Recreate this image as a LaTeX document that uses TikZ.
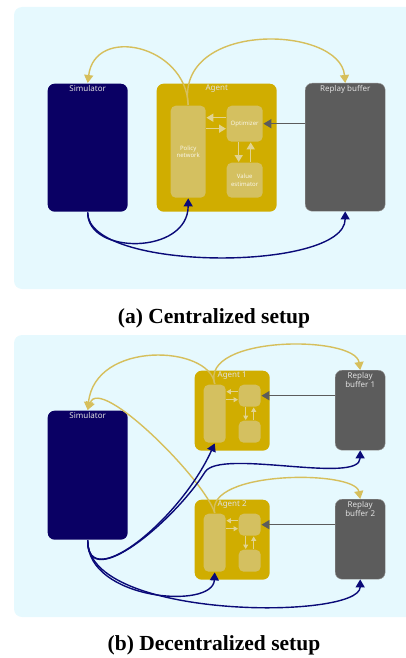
\documentclass[tikz,border=0pt]{standalone}
\usepackage{fontspec}
\setmainfont{Liberation Serif}
\setsansfont{Noto Sans}
\usepackage{xcolor}
\usetikzlibrary{arrows.meta}
\usetikzlibrary{calc}
\usetikzlibrary{positioning}

\definecolor{bgcyan}{HTML}{E6F9FE}
\definecolor{simblue}{HTML}{0A0064}
\definecolor{agentgold}{HTML}{D0AD00}
\definecolor{innergold}{HTML}{D4C060}
\definecolor{buffergray}{HTML}{5C5C5C}
\definecolor{flowgold}{HTML}{D6BF5C}
\definecolor{flownavy}{HTML}{0A0A78}

\begin{document}
\begin{tikzpicture}[x=1pt,y=-1pt,>={Triangle[width=9pt,length=8pt]},line width=1.4pt,font=\sffamily]
 				 \tikzstyle{panel}=[fill=bgcyan, rounded corners=8pt]
 				 \tikzstyle{box}=[rounded corners=7pt, inner sep=0pt, anchor=north west]
 				 \tikzstyle{inbox}=[box, fill=innergold, rounded corners=5pt]
 				 \tikzstyle{lbl}=[anchor=north, inner sep=1.5pt, text=white!88!black, font=\sffamily\fontsize{8}{9.5}\selectfont, align=center]
 				 \tikzstyle{tiny}=[text=white!85!innergold, font=\sffamily\fontsize{6}{7.5}\selectfont, align=center]
 				 \tikzstyle{gold}=[->, flowgold]
 				 \tikzstyle{navy}=[->, flownavy]
 				 \tikzstyle{feed}=[->, buffergray, line width=1.5pt]
 				 \tikzstyle{inner}=[-{Triangle[width=8pt,length=7pt]}, white!30!innergold, line width=1.5pt]
 				 \tikzstyle{small}=[-{Triangle[width=5pt,length=4.5pt]}, white!30!innergold, line width=1pt]
 				 \tikzstyle{caption}=[font=\rmfamily\bfseries\fontsize{21.5}{25}\selectfont]
 				 \path[use as bounding box] (0,0) rectangle (406,658);

 				 % (a) centralized
 				 \fill[panel] (14,7) rectangle (420,289);
 					 \node[box, fill=simblue, minimum width=80, minimum height=128, label={[lbl]north:Simulator}] (sim) at (47,83) {};
 					 \node[box, fill=agentgold, minimum width=120, minimum height=128, label={[lbl]north:Agent}] (agent) at (156,83) {};
 					 \node[box, fill=buffergray, draw=gray!80, thin, minimum width=80, minimum height=128, label={[lbl]north:Replay buffer}] (rb) at (305,83) {};
 					 \node[inbox, minimum width=35, minimum height=92] (pol) at (170,105) {};
 					 \node[inbox, minimum width=36, minimum height=36] (opt) at (226,105) {};
 					 \node[inbox, minimum width=36, minimum height=35] (val) at (226,162) {};
 					 \node[tiny] at (pol.center) {Policy\\network};
 					 \node[tiny] at (opt.center) {Optimizer};
 					 \node[tiny] at (val.center) {Value\\estimator};
 					 \draw[inner] ([yshift=6pt]opt.west) -- ([yshift=6pt]opt.west -| pol.east);
 					 \draw[inner] ([yshift=-5pt]pol.east |- opt.west) -- ([yshift=-5pt]opt.west);
 					 \draw[inner] ([xshift=-6pt]opt.south) -- ([xshift=-6pt]val.north);
 					 \draw[inner] ([xshift=6pt]val.north) -- ([xshift=6pt]opt.south);
 					 \path (rb.west |- opt) edge[feed] (opt.east);
 					 \draw[gold] (pol.north) .. controls (186,45) and (95,25) .. (sim.north);
 					 \draw[gold] (pol.north) .. controls (175,20) and (340,25) .. (rb.north);
 					 \draw[navy] (sim.south) .. controls (87,255) and (188,255) .. (pol.south);
 					 \draw[navy] (sim.south) .. controls (87,272) and (345,272) .. (rb.south);
 				 \node[caption] (capa) at (214,318) {(a) Centralized setup};

 				 % (b) decentralized
 				 \fill[panel] (14,335) rectangle (420,617);
 					 \node[box, fill=simblue, minimum width=80, minimum height=129, label={[lbl]north:Simulator}] (simb) at (47,410) {};
 					 \foreach \i/\y in {1/370, 2/499} {
 					 \node[box, fill=agentgold, minimum width=75, minimum height=80, label={[lbl, inner sep=1pt]north:Agent \i}] (ag\i) at (194,\y) {};
 					 \node[box, fill=buffergray, draw=gray!80, thin, minimum width=50, minimum height=80, label={[lbl]north:Replay\\buffer \i}] (rb\i) at (335,\y) {};
 					 \node[inbox, minimum width=22, minimum height=58] (pol\i) at (203,\y+14) {};
 					 \node[inbox, minimum width=22, minimum height=22] (opt\i) at (238,\y+14) {};
 					 \node[inbox, minimum width=22, minimum height=22] (val\i) at (238,\y+50) {};
 					 \draw[small] ([yshift=4pt]opt\i.west) -- ([yshift=4pt]opt\i.west -| pol\i.east);
 					 \draw[small] ([yshift=-4pt]pol\i.east |- opt\i.west) -- ([yshift=-4pt]opt\i.west);
 					 \draw[small] ([xshift=-4pt]opt\i.south) -- ([xshift=-4pt]val\i.north);
 					 \draw[small] ([xshift=4pt]val\i.north) -- ([xshift=4pt]opt\i.south);
 					 \path (rb\i.west |- opt\i) edge[feed] (opt\i.east);
 					 }
 					 \draw[gold] (pol1.north) .. controls (210,345) and (95,340) .. (simb.north);
 					 \draw[gold] (pol1.north) .. controls (200,335) and (355,335) .. (rb1.north);
 					 \draw[gold] (pol2.north) .. controls (205,480) and (100,375) .. (simb.north);
 					 \draw[gold] (pol2.north) .. controls (205,470) and (355,470) .. (rb2.north);
 					 \draw[navy] (simb.south) .. controls (87,595) and (180,520) .. (pol1.south);
 					 \draw[navy] (simb.south) .. controls (87,595) and (175,520) .. (205,472) .. controls (220,448) and (360,485) .. (rb1.south);
 					 \draw[navy] (simb.south) .. controls (87,600) and (213,610) .. (pol2.south);
 					 \draw[navy] (simb.south) .. controls (87,620) and (360,620) .. (rb2.south);
 				 \node[caption] (capb) at (214,645) {(b) Decentralized setup};
\end{tikzpicture}
\end{document}
